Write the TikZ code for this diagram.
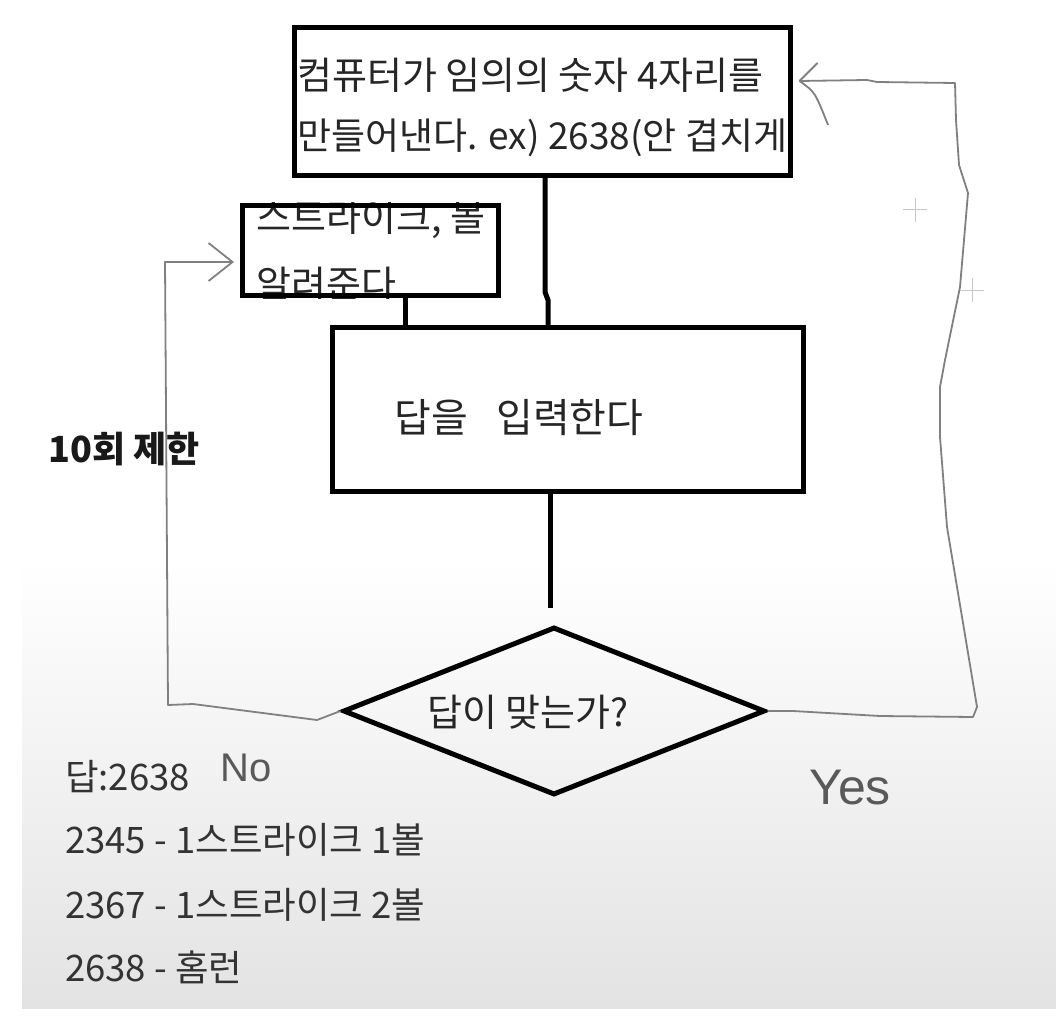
\documentclass[tikz,border=0pt]{standalone}
\usepackage{fontspec}
\setmainfont{Noto Sans CJK KR}
\newfontfamily\handfont{Liberation Sans}
\usetikzlibrary{shapes.geometric,arrows.meta,calc}
\begin{document}
\begin{tikzpicture}[x=1pt,y=-1pt,
  box/.style={draw=black, line width=5pt, inner sep=0pt, rectangle},
  conn/.style={line width=5pt, black},
  loopline/.style={draw=black!50, line width=1.8pt, line join=round},
  lbl/.style={font=\fontsize{38}{44}\selectfont, text=black!85, inner sep=0pt},
  note/.style={font=\fontsize{36.5}{42}\selectfont, text=black!80, inner sep=0pt, anchor=west},
  hand/.style={font=\handfont\fontsize{40}{44}\selectfont, text=black!65, inner sep=0pt},
  sparkle/.style={draw=black!22, line width=1pt}]
\useasboundingbox (0,0) rectangle (1056,1016);
\fill[white] (0,0) rectangle (1056,1016);
\shade[top color=white, bottom color=black!11] (22,560) rectangle (1056,1008);

% boxes
\node[box, minimum width=496pt, minimum height=148pt] (gen) at (542.5,101.5) {};
\node[box, minimum width=256pt, minimum height=90pt] (hint) at (370.5,250.5) {};
\node[box, minimum width=471pt, minimum height=164pt] (inp) at (568,409.5) {};
\node[diamond, draw=black, line width=5pt, inner sep=0pt, minimum width=422pt, minimum height=168pt] (dec) at (554,711) {};

% box texts
\node[lbl, anchor=west] (g1) at (297,75) {컴퓨터가 임의의 숫자 4자리를};
\node[lbl, anchor=west, font=\fontsize{37}{44}\selectfont] (g2) at (297,138) {만들어낸다. ex) 2638(안 겹치게};
\begin{scope}
  \clip (240,203) rectangle (501,298);
  \node[lbl, anchor=west] (h1) at (256,219) {스트라이크, 볼};
  \node[lbl, anchor=west] (h2) at (256,284) {알려준다};
\end{scope}
\node[box, fill=none, minimum width=256pt, minimum height=90pt] at (hint) {};
\node[lbl, font=\fontsize{40}{46}\selectfont] (it) at (519,418) {답을\hspace{28pt}입력한다};
\node[lbl] (dt) at (528,712) {답이 맞는가?};

% side and bottom texts
\node[note, font=\bfseries\fontsize{36}{42}\selectfont, text=black!90] (lim) at (48,449) {10회 제한};
\node[note] (n0) at (65,777) {답:2638};
\node[note] (n1) at (65,840) {2345 - 1스트라이크 1볼};
\node[note] (n2) at (65,905) {2367 - 1스트라이크 2볼};
\node[note] (n3) at (65,967) {2638 - 홈런};
\node[hand] (no) at (246,768) {No};
\node[hand, font=\handfont\fontsize{50}{54}\selectfont] (yes) at (850,788) {Yes};

% thick connectors
\draw[conn] (gen.south -| 545,0) -- (545,292) -- (548,300) -- (inp.north -| 548,0);
\draw[conn] (hint.south -| 405,0) -- (inp.north -| 405,0);
\coordinate (inpEnd) at (550,608);
\draw[conn] (inp.south -| 550,0) -- (inpEnd);

% No loop
\coordinate (tipL) at ($(hint.west)+(-6,11.5)$);
\draw[loopline, -{Straight Barb[length=24pt,width=38pt]}] (dec.west) -- (317,720) -- (193,704) -- (168,705) -- (165,262) -- (tipL);

% Yes loop
\coordinate (tipR) at ($(gen.east)+(6.5,-20.5)$);
\draw[loopline] (dec.east) -- (793,711) -- (880,716) -- (973,717) -- (977,707) -- (947,527) -- (940,437) -- (940,387) -- (945,360) -- (960,287) -- (968,193) -- (959,165) -- (956,120) -- (955,83) -- (877,82) -- (867,80) -- (tipR);
\draw[loopline] (tipR) -- ++(18,-18);
\draw[loopline] (tipR) .. controls (815,92) .. (828,125);

% sparkles
\draw[sparkle] (903,210) -- (927,210) (915,198) -- (915,222);
\draw[sparkle] (960,290) -- (984,290) (972,278) -- (972,302);
\end{tikzpicture}
\end{document}
